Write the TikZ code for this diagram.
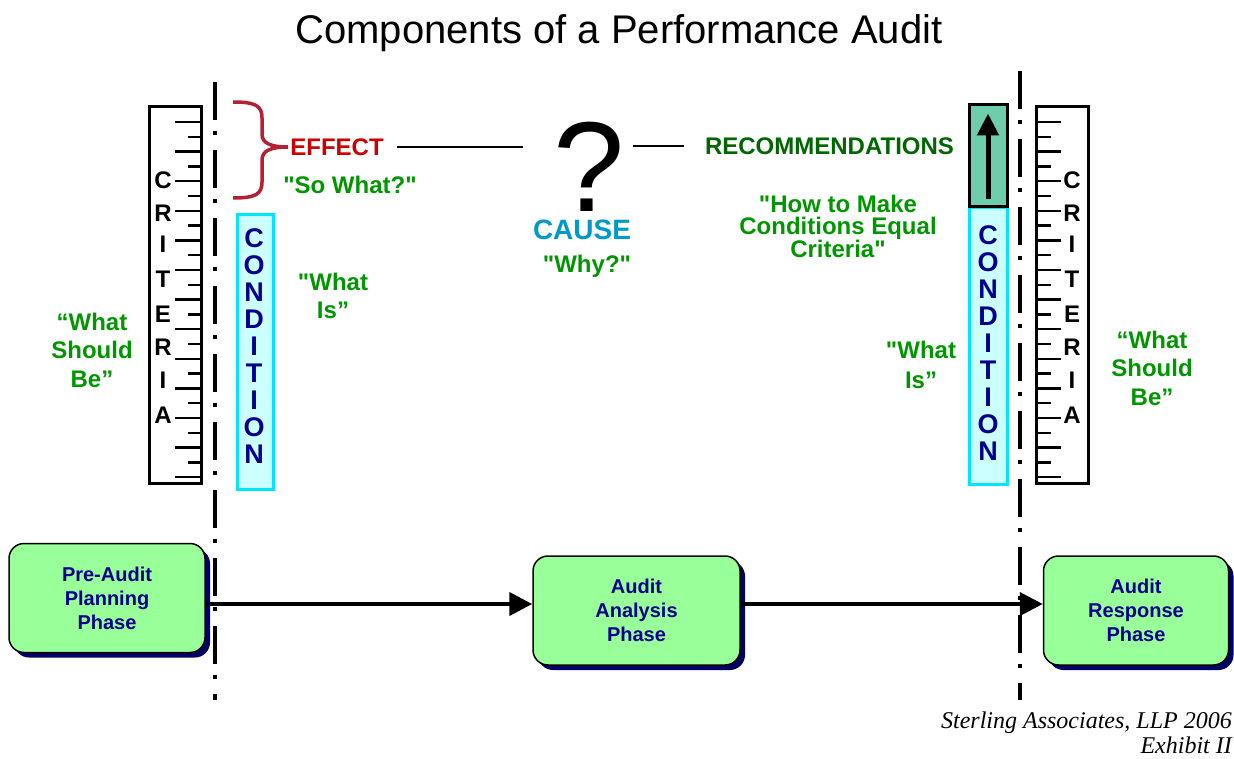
\documentclass[tikz,border=0pt]{standalone}
\usepackage{fontspec}
\setmainfont{Liberation Sans}
\newfontfamily\creditfont{Liberation Serif}
\usetikzlibrary{positioning,arrows.meta,shadows}

\definecolor{effectred}{RGB}{204,0,0}
\definecolor{bracered}{RGB}{178,34,52}
\definecolor{quotegreen}{RGB}{0,150,0}
\definecolor{recgreen}{RGB}{0,102,0}
\definecolor{causeblue}{RGB}{0,153,204}
\definecolor{condcyan}{RGB}{0,230,255}
\definecolor{condfill}{RGB}{204,255,255}
\definecolor{condnavy}{RGB}{0,0,140}
\definecolor{recfill}{RGB}{110,205,170}
\definecolor{phasefill}{RGB}{153,255,153}
\definecolor{phaseshadow}{RGB}{0,0,102}
\newcommand\dq{\textquotedbl}

\begin{document}
\begin{tikzpicture}[x=1pt,y=-1pt,
    lbl/.style={font=\fontsize{24}{28}\selectfont\bfseries, inner sep=0pt, align=center},
    ruler/.style={rectangle,draw,line width=3pt,minimum width=52pt,minimum height=376pt,inner sep=0pt},
    condbox/.style={rectangle,draw=condcyan,fill=condfill,line width=3pt,minimum width=36pt,inner sep=0pt},
    critletter/.style={font=\fontsize{24}{24}\selectfont\bfseries, inner sep=0pt},
    condletter/.style={font=\fontsize{27}{27}\selectfont\bfseries, text=condnavy, inner sep=0pt},
    tick/.style={line width=2.5pt},
    divider/.style={line width=4pt, dash pattern=on 38pt off 11pt on 4pt off 15pt},
    link/.style={line width=2pt},
    phase/.style={rectangle,draw,rounded corners=15pt,line width=1.5pt,fill=phasefill,
        text=condnavy,font=\fontsize{20}{24}\selectfont\bfseries,align=center,minimum height=109pt,
        drop shadow={shadow xshift=5pt,shadow yshift=-5pt,fill=phaseshadow,opacity=1}},
    flow/.style={line width=4pt,-{Triangle[length=23pt,width=23pt]}}]
    \useasboundingbox (0,0) rectangle (1234,759);

    \node[font=\fontsize{40}{48}\selectfont] (title) at (619,33) {Components of a Performance Audit};

    \draw[divider] (215,82) -- (215,700);
    \draw[divider] (1020,71) -- (1020,700);

    % criteria rulers
    \node[ruler] (critL) at (175,295) {};
    \node[ruler] (critR) at (1062.5,295) {};
    \foreach \i in {0,...,24} {
        \pgfmathsetmacro\ticklen{mod(\i,2)==0 ? 26 : 13}
        \draw[tick] (201,122+14.8*\i) -- ++(-\ticklen,0);
        \pgfmathsetmacro\ticklen{mod(\i,2)==0 ? 24 : 14}
        \draw[tick] (1036.5,122+14.8*\i) -- ++(\ticklen,0);
    }
    \foreach \l/\y [count=\i] in {C/180,R/213,I/244,T/279,E/314,R/347,I/380,A/415} {
        \node[critletter] (critL\i) at (163,\y) {\l};
        \node[critletter] (critR\i) at (1072,\y) {\l};
    }

    % condition columns
    \node[condbox,minimum height=274pt] (condL) at (255,352) {};
    \node[condbox,minimum height=276pt,minimum width=38pt] (condR) at (988,346) {};
    \node[rectangle,draw,fill=recfill,line width=3pt,minimum width=38pt,minimum height=102pt,inner sep=0pt] (recbox) at (988,156) {};
    \draw[line width=5pt,-{Triangle[length=22pt,width=21pt]}] ([yshift=9pt]recbox.south) -- ([yshift=-10pt]recbox.north);
    \foreach \l [count=\i] in {C,O,N,D,I,T,I,O,N} {
        \node[condletter] (condL\i) at (254,211+27*\i) {\l};
        \node[condletter] (condR\i) at (988,208+27*\i) {\l};
    }

    % effect, cause, recommendations
    \draw[bracered,line width=3.5pt] (233,102) .. controls (256,102) and (262,106) .. (262,118) -- (262,134)
        .. controls (262,143) and (270,147) .. (288,147) .. controls (270,147) and (262,151) .. (262,160)
        -- (262,182) .. controls (262,194) and (256,198) .. (233,198);
    \node[lbl,text=effectred] (effect) at (337,147) {EFFECT};
    \node[lbl,text=quotegreen] (sowhat) at (350,185) {\dq So What?\dq};
    \node[font=\fontsize{128}{130}\selectfont,text depth=0pt,anchor=base,inner sep=0pt] (qmark) at (589,212) {?};
    \node[lbl,font=\fontsize{28}{32}\selectfont\bfseries,text=causeblue] (cause) at (582,230) {CAUSE};
    \node[lbl,text=quotegreen] (why) at (587,266) {\dq Why?\dq};
    \node[lbl,text=recgreen] (recs) at (829.5,146) {RECOMMENDATIONS};
    \node[lbl,font=\fontsize{24}{22.5}\selectfont\bfseries,text=quotegreen] (howto) at (838,226) {\dq How to Make\\Conditions Equal\\Criteria\dq};
    \draw[link,shorten <=13pt,shorten >=30pt] (effect.east) -- (effect.east -| qmark.west);
    \draw[link,shorten <=8pt,shorten >=21pt] (qmark.east |- recs.west) -- (recs.west);

    \node[lbl,font=\fontsize{24}{28}\selectfont\bfseries,text=quotegreen] (whatisL) at (333,296) {\dq What\\Is”};
    \node[lbl,font=\fontsize{24}{30}\selectfont\bfseries,text=quotegreen] (whatisR) at (921,365) {\dq What\\Is”};
    \node[lbl,font=\fontsize{24}{28.5}\selectfont\bfseries,text=quotegreen] (shouldL) at (92,350) {“What\\Should\\Be”};
    \node[lbl,font=\fontsize{24}{28.5}\selectfont\bfseries,text=quotegreen] (shouldR) at (1152,368) {“What\\Should\\Be”};

    % phases
    \node[phase,minimum width=196pt] (preaudit) at (107,598) {Pre-Audit\\Planning\\Phase};
    \node[phase,minimum width=207pt] (analysis) at (636.5,610.5) {Audit\\Analysis\\Phase};
    \node[phase,minimum width=185pt] (response) at (1136,610.5) {Audit\\Response\\Phase};
    \draw[flow] ([yshift=-6pt]preaudit.east) -- ([yshift=-6pt]preaudit.east -| analysis.west);
    \draw[flow] ([yshift=6.5pt]analysis.east) -- ([yshift=6.5pt]analysis.east -| response.west);

    \node[font=\creditfont\itshape\fontsize{24}{25}\selectfont,align=right,anchor=east,inner sep=0pt] (credit) at (1232,733) {Sterling Associates, LLP 2006\\Exhibit II};
\end{tikzpicture}
\end{document}
